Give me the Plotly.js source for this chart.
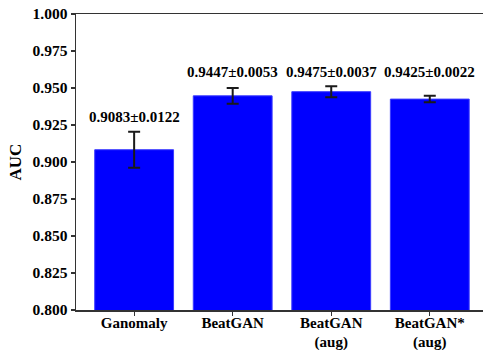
<!DOCTYPE html>
<html>
<head>
<meta charset="utf-8">
<script src="https://cdn.plot.ly/plotly-3.0.1.min.js"></script>
<style>html,body{margin:0;padding:0;overflow:hidden;background:#fff}</style>
</head>
<body>
<div id="chart" style="width:483px;height:350px"></div>
<script>
const categories = ["Ganomaly", "BeatGAN", "BeatGAN<br>(aug)", "BeatGAN*<br>(aug)"];
const aucMean = [0.9083, 0.9447, 0.9475, 0.9425];
const aucStd = [0.0122, 0.0053, 0.0037, 0.0022];
const labelLevel = [0.9236, 0.9540, 0.9540, 0.9540];

const fam = "Liberation Serif";
const tickFont = {family: fam, size: 15.5, color: "#000", weight: 700};
const xTickFont = {family: fam, size: 15, color: "#000", weight: 700};
const noteFont = {family: fam, size: 15, color: "#000", weight: 700};
const titleFont = {family: fam, size: 17, color: "#000", weight: 700};

const trace = {
  type: "bar",
  x: [0, 1, 2, 3],
  y: aucMean,
  width: 0.8,
  marker: {color: "#0000ff", line: {color: "#3b3bff", width: 1}},
  error_y: {type: "data", array: aucStd, visible: true, color: "#1a1a1a", thickness: 2, width: 6},
  hoverinfo: "skip"
};

const annotations = aucMean.map((m, i) => ({
  x: i, y: labelLevel[i], xref: "x", yref: "y",
  text: m.toFixed(4) + "±" + aucStd[i].toFixed(4),
  showarrow: false, yanchor: "bottom", font: noteFont
}));

const layout = {
  width: 483, height: 350,
  margin: {l: 76, r: 0, t: 14, b: 40, pad: 0},
  paper_bgcolor: "#fff", plot_bgcolor: "#fff",
  showlegend: false,
  font: tickFont,
  xaxis: {
    range: [-0.59, 3.54], tickvals: [0, 1, 2, 3], ticktext: categories,
    showline: true, linecolor: "#333", linewidth: 1.5, mirror: true,
    ticks: "outside", ticklen: 4, tickwidth: 1.2, tickcolor: "#333",
    showgrid: false, zeroline: false, tickfont: xTickFont, automargin: false,
    ticklabelstandoff: -6
  },
  yaxis: {
    range: [0.8, 1.0], dtick: 0.025, tick0: 0.8, tickformat: ".3f",
    showline: true, linecolor: "#333", linewidth: 1.5, mirror: false,
    ticks: "outside", ticklen: 4, tickwidth: 1.2, tickcolor: "#333",
    showgrid: false, zeroline: false, tickfont: tickFont, automargin: false,
    title: {text: "AUC", font: titleFont, standoff: 6}
  },
  annotations: annotations
};

Plotly.newPlot("chart", [trace], layout, {staticPlot: true, displayModeBar: false});
</script>
</body>
</html>
